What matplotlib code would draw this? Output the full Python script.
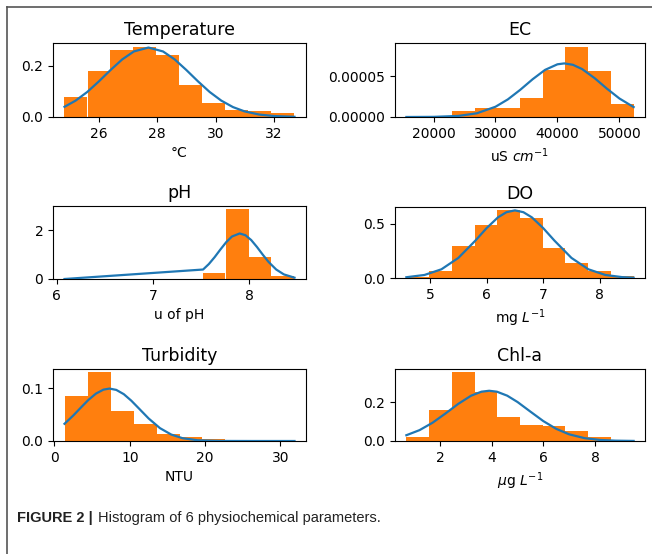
import matplotlib
matplotlib.use("Agg")
import matplotlib.pyplot as plt
import numpy as np
from matplotlib import font_manager
from matplotlib.lines import Line2D

OUT_PATH = "out.png"

BAR_COLOR = "#ff7f0e"
LINE_COLOR = "#1f77b4"

# histogram range (min, max of data) -> 10 equal bins, density heights
TEMP_RANGE = (24.82, 32.71)
TEMP_HEIGHTS = [0.077, 0.179, 0.261, 0.276, 0.244, 0.127, 0.056, 0.029, 0.023, 0.017]
TEMP_CURVE_X = [24.82, 25.2, 25.6, 26.0, 26.4, 26.8, 27.2, 27.7, 28.2, 28.6, 29.0, 29.4,
                29.8, 30.2, 30.6, 31.0, 31.5, 32.0, 32.71]
TEMP_CURVE_Y = [0.040, 0.064, 0.098, 0.1395, 0.184, 0.2255, 0.2567, 0.272, 0.2567, 0.2255,
                0.184, 0.1395, 0.098, 0.064, 0.0388, 0.0219, 0.0096, 0.0038, 0.0008]

EC_RANGE = (15620, 52296)
EC_HEIGHTS = [0.1e-5, 0.15e-5, 0.7e-5, 1.05e-5, 1.1e-5, 2.3e-5, 5.7e-5, 8.6e-5, 5.58e-5, 1.63e-5]
EC_CURVE_X = [15620, 20000, 24000, 27000, 30000, 32000, 34000, 36000, 38000, 40000, 41100,
              42500, 44000, 46000, 48000, 50000, 52296]
EC_CURVE_Y = [0.0, 0.0165e-5, 0.129e-5, 0.453e-5, 1.25e-5, 2.15e-5, 3.32e-5, 4.61e-5, 5.75e-5,
              6.43e-5, 6.54e-5, 6.37e-5, 5.84e-5, 4.74e-5, 3.45e-5, 2.26e-5, 1.21e-5]

PH_RANGE = (6.08, 8.47)
PH_HEIGHTS = [0.015, 0.0, 0.0, 0.0, 0.0, 0.0, 0.25, 2.84, 0.91, 0.11]
PH_CURVE_X = [6.08, 7.52, 7.58, 7.64, 7.70, 7.76, 7.82, 7.90, 7.96, 8.02, 8.08, 8.14, 8.20,
              8.28, 8.36, 8.47]
PH_CURVE_Y = [0.0, 0.387, 0.611, 0.892, 1.205, 1.503, 1.735, 1.86, 1.789, 1.591, 1.308, 0.995,
              0.699, 0.387, 0.187, 0.054]

DO_RANGE = (4.58, 8.60)
DO_HEIGHTS = [0.008, 0.067, 0.294, 0.485, 0.62, 0.552, 0.273, 0.142, 0.067, 0.015]
DO_CURVE_X = [4.58, 4.9, 5.2, 5.5, 5.8, 6.0, 6.2, 6.35, 6.5, 6.65, 6.8, 7.0, 7.2, 7.5, 7.8,
              8.1, 8.4, 8.6]
DO_CURVE_Y = [0.0071, 0.0278, 0.0799, 0.1846, 0.343, 0.4585, 0.5568, 0.6043, 0.621, 0.6043,
              0.5568, 0.4585, 0.343, 0.1846, 0.0799, 0.0278, 0.0078, 0.0030]

TURB_RANGE = (1.33, 31.86)
TURB_HEIGHTS = [0.086, 0.130, 0.0563, 0.0323, 0.0127, 0.0082, 0.0044, 0.0, 0.0, 0.001]
TURB_CURVE_X = [1.33, 2.5, 3.5, 4.5, 5.5, 6.5, 7.3, 8.2, 9.2, 10.2, 11.2, 12.5, 14.0, 15.5,
                17.0, 19.0, 22.0, 26.0, 31.86]
TURB_CURVE_Y = [0.0326, 0.0484, 0.0633, 0.0778, 0.0898, 0.0974, 0.0994, 0.0969, 0.0888,
                0.0764, 0.0618, 0.0427, 0.0244, 0.0122, 0.0053, 0.0014, 0.0001, 0.0, 0.0]

CHLA_RANGE = (0.69, 9.50)
CHLA_HEIGHTS = [0.0224, 0.159, 0.353, 0.253, 0.121, 0.081, 0.076, 0.053, 0.022, 0.005]
CHLA_CURVE_X = [0.69, 1.2, 1.7, 2.2, 2.7, 3.2, 3.6, 3.9, 4.2, 4.6, 5.0, 5.5, 6.0, 6.5, 7.0,
                7.6, 8.2, 8.8, 9.5]
CHLA_CURVE_Y = [0.0297, 0.0559, 0.0936, 0.141, 0.191, 0.2333, 0.2538, 0.2586, 0.2538, 0.2333,
                0.2006, 0.1511, 0.1024, 0.0625, 0.0344, 0.0146, 0.0053, 0.0017, 0.0004]

TITLES = ["Temperature", "EC", "pH", "DO", "Turbidity", "Chl-a"]
XLABELS = ["°C", "uS $cm^{-1}$", "u of pH", "mg $L^{-1}$", "NTU", "$\\mu$g $L^{-1}$"]
XTICKS = [[26, 28, 30, 32], [20000, 30000, 40000, 50000], [6, 7, 8], [5, 6, 7, 8],
          [0, 10, 20, 30], [2, 4, 6, 8]]
YTICKS = [[0.0, 0.2], [0.0, 0.00005], [0, 2], [0.0, 0.5], [0.0, 0.1], [0.0, 0.2]]
YTICK_LABELS = [["0.0", "0.2"], ["0.00000", "0.00005"], ["0", "2"], ["0.0", "0.5"],
                ["0.0", "0.1"], ["0.0", "0.2"]]

CAPTION_BOLD = "FIGURE 2 |"
CAPTION_TEXT = "Histogram of 6 physiochemical parameters."

PANELS = [
    (TEMP_RANGE, TEMP_HEIGHTS, TEMP_CURVE_X, TEMP_CURVE_Y),
    (EC_RANGE, EC_HEIGHTS, EC_CURVE_X, EC_CURVE_Y),
    (PH_RANGE, PH_HEIGHTS, PH_CURVE_X, PH_CURVE_Y),
    (DO_RANGE, DO_HEIGHTS, DO_CURVE_X, DO_CURVE_Y),
    (TURB_RANGE, TURB_HEIGHTS, TURB_CURVE_X, TURB_CURVE_Y),
    (CHLA_RANGE, CHLA_HEIGHTS, CHLA_CURVE_X, CHLA_CURVE_Y),
]

W, H = 652, 554
# axes boxes in pixels: (left, top, right, bottom)
AXES_PX = [
    (53, 43, 306, 117), (395, 43, 645, 117),
    (53, 206, 306, 279), (395, 207, 645, 278),
    (53, 369, 306, 441), (395, 369, 645, 441),
]


def pick_font(preferred, fallback="DejaVu Sans"):
    available = {f.name for f in font_manager.fontManager.ttflist}
    for name in preferred:
        if name in available:
            return name
    return fallback


CAPTION_FONT = pick_font(["Liberation Sans Narrow", "Liberation Sans"])
CAPTION_SIZE = 12.5 if CAPTION_FONT == "Liberation Sans Narrow" else 10.5


def draw_panel(ax, idx):
    (lo, hi), heights, cx, cy = PANELS[idx]
    edges = np.linspace(lo, hi, len(heights) + 1)
    ax.bar(edges[:-1], heights, width=np.diff(edges), align="edge",
           color=BAR_COLOR, linewidth=0, zorder=2)
    ax.plot(cx, cy, color=LINE_COLOR, linewidth=1.6, zorder=3)
    ax.set_title(TITLES[idx], fontsize=12.5)
    ax.set_xlabel(XLABELS[idx], fontsize=10)
    ax.set_xticks(XTICKS[idx])
    ax.set_yticks(YTICKS[idx])
    ax.set_yticklabels(YTICK_LABELS[idx])
    ax.tick_params(labelsize=10)


def main():
    plt.rcParams["font.family"] = ["DejaVu Sans"]
    fig = plt.figure(figsize=(W / 100, H / 100), dpi=100)

    for idx, (l, t, r, b) in enumerate(AXES_PX):
        ax = fig.add_axes([l / W, 1 - b / H, (r - l) / W, (b - t) / H])
        draw_panel(ax, idx)

    # page frame (left and top rule)
    fig.add_artist(Line2D([7 / W, 7 / W], [0, 1 - 7 / H], color="#555555", linewidth=1.2))
    fig.add_artist(Line2D([7 / W, 1], [1 - 7 / H, 1 - 7 / H], color="#555555", linewidth=1.2))

    bold = fig.text(17 / W, 1 - 518 / H, CAPTION_BOLD, fontsize=CAPTION_SIZE,
                    fontweight="bold", family=CAPTION_FONT, color="#222222", va="center")
    fig.canvas.draw()
    x_end = bold.get_window_extent().x1
    fig.text((x_end + 5) / W, 1 - 518 / H, CAPTION_TEXT, fontsize=CAPTION_SIZE,
             family=CAPTION_FONT, color="#222222", va="center")

    fig.savefig(OUT_PATH, dpi=100)
    plt.close(fig)


if __name__ == "__main__":
    main()
